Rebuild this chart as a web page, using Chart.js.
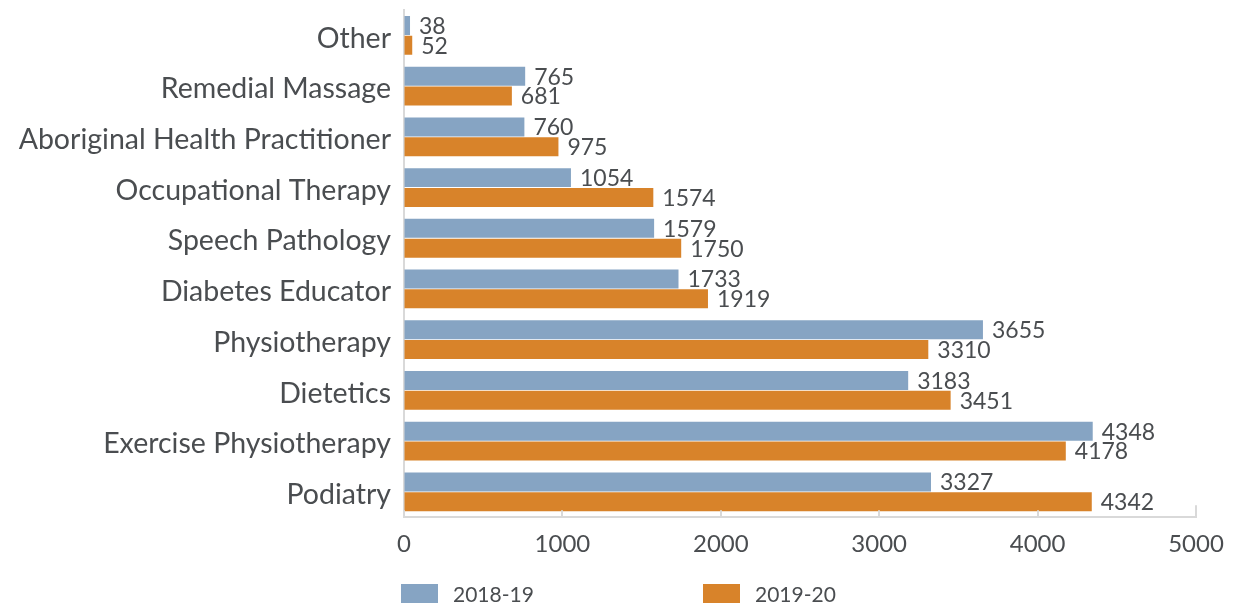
<!DOCTYPE html>
<html>
<head>
<meta charset="utf-8">
<title>Services by discipline</title>
<script src="https://cdn.jsdelivr.net/npm/chart.js@4.4.1/dist/chart.umd.min.js"></script>
<style>
  html, body { margin: 0; padding: 0; background: #fff; }
  #wrap { position: relative; width: 1243px; height: 606px; }
  #legend { position: absolute; left: 0; top: 584px; width: 1243px; height: 19px; }
  .legend-item { position: absolute; top: 0; height: 19px; display: flex; align-items: center; font: 21px Lato, sans-serif; line-height: 19px; color: #4a4d50; }
  .legend-item:nth-child(1) { left: 401px; }
  .legend-item:nth-child(2) { left: 703px; }
  .legend-box { width: 37px; height: 19px; margin-right: 15px; }
</style>
</head>
<body>
<div id="wrap">
  <canvas id="barChart" width="1243" height="606"></canvas>
  <div id="legend"></div>
</div>
<script>
// Data
const categories = [
    'Other',
    'Remedial Massage',
    'Aboriginal Health Practitioner',
    'Occupational Therapy',
    'Speech Pathology',
    'Diabetes Educator',
    'Physiotherapy',
    'Dietetics',
    'Exercise Physiotherapy',
    'Podiatry'
];
const seriesNames = ['2018-19', '2019-20'];
const values2018 = [38, 765, 760, 1054, 1579, 1733, 3655, 3183, 4348, 3327];
const values2019 = [52, 681, 975, 1574, 1750, 1919, 3310, 3451, 4178, 4342];
const xTicks = [0, 1000, 2000, 3000, 4000, 5000];

const seriesColors = ['#86a4c3', '#d8832a'];
const textColor = '#4a4d50';
const axisColor = '#d9d9d9';
const fontFamily = 'Lato, sans-serif';

// Number labels at the end of each bar
const valueLabels = {
    id: 'valueLabels',
    afterDatasetsDraw(chart) {
        const ctx = chart.ctx;
        ctx.save();
        ctx.font = '23px ' + fontFamily;
        ctx.fillStyle = textColor;
        ctx.textAlign = 'left';
        ctx.textBaseline = 'middle';
        chart.data.datasets.forEach((ds, i) => {
            chart.getDatasetMeta(i).data.forEach((bar, j) => {
                ctx.fillText(String(ds.data[j]), bar.x + 9, bar.y + 1);
            });
        });
        ctx.restore();
    }
};

// Small tick marks pointing up from the x axis line
const innerTicks = {
    id: 'innerTicks',
    afterDraw(chart) {
        const scale = chart.scales.x;
        const ctx = chart.ctx;
        ctx.save();
        ctx.strokeStyle = axisColor;
        ctx.lineWidth = 2;
        scale.ticks.forEach((t, k) => {
            const px = Math.round(scale.getPixelForValue(t.value));
            const len = k === scale.ticks.length - 1 ? 12 : 7;
            ctx.beginPath();
            ctx.moveTo(px, scale.top);
            ctx.lineTo(px, scale.top - len);
            ctx.stroke();
        });
        ctx.restore();
    }
};

const ctx = document.getElementById('barChart').getContext('2d');
const barChart = new Chart(ctx, {
    type: 'bar',
    data: {
        labels: categories,
        datasets: [
            { label: seriesNames[0], data: values2018, backgroundColor: seriesColors[0] },
            { label: seriesNames[1], data: values2019, backgroundColor: seriesColors[1] }
        ]
    },
    options: {
        indexAxis: 'y',
        responsive: false,
        animation: false,
        categoryPercentage: 0.78,
        barPercentage: 0.96,
        layout: { padding: { top: 10, right: 47, bottom: 34, left: 0 } },
        plugins: {
            legend: { display: false },
            tooltip: { enabled: false }
        },
        scales: {
            x: {
                min: 0,
                max: 5000,
                afterBuildTicks: (scale) => { scale.ticks = xTicks.map(v => ({ value: v })); },
                ticks: {
                    color: textColor,
                    font: { family: fontFamily, size: 24 },
                    padding: 13,
                    callback: (value) => String(value)
                },
                grid: { drawOnChartArea: false, drawTicks: false },
                border: { color: axisColor, width: 2 }
            },
            y: {
                ticks: {
                    color: textColor,
                    font: { family: fontFamily, size: 28.5 },
                    padding: 13,
                    labelOffset: 3
                },
                grid: { drawOnChartArea: false, drawTicks: false },
                border: { color: axisColor, width: 2 },
                afterFit: (scale) => {
                    scale.width = 404;
                    scale.paddingTop = 0;
                    scale.paddingBottom = 0;
                }
            }
        }
    },
    plugins: [valueLabels, innerTicks]
});

// Legend under the chart
const legend = document.getElementById('legend');
seriesNames.forEach((name, i) => {
    const item = document.createElement('div');
    item.className = 'legend-item';
    const box = document.createElement('span');
    box.className = 'legend-box';
    box.style.background = seriesColors[i];
    const label = document.createElement('span');
    label.textContent = name;
    item.appendChild(box);
    item.appendChild(label);
    legend.appendChild(item);
});
</script>
</body>
</html>
